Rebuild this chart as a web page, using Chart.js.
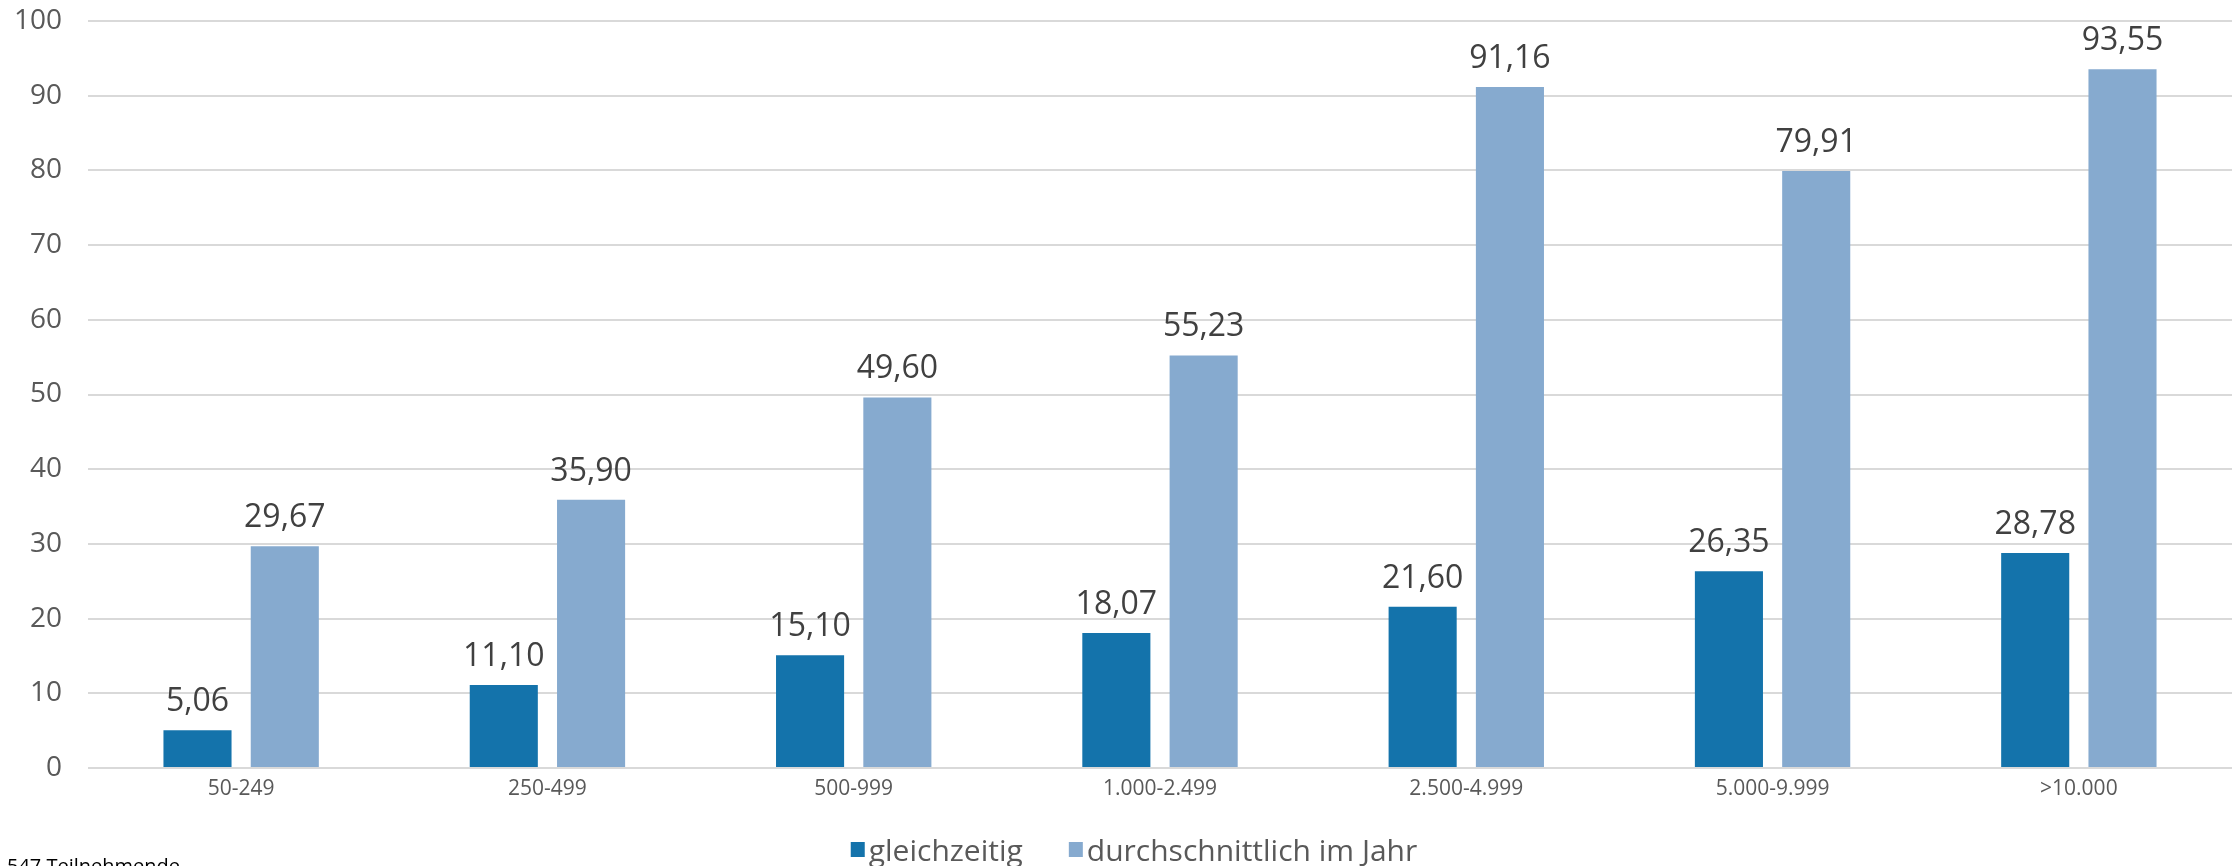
<html>
<head>
	<title>Teilnehmende</title>
	<meta charset="utf-8">
	<script src="https://cdn.jsdelivr.net/npm/chart.js"></script>
	<style>
		html, body {
			margin: 0;
			padding: 0;
			background: #ffffff;
		}
		#wrap {
			width: 2239px;
			height: 866px;
		}
	</style>
</head>
<body>
	<div id="wrap">
		<canvas id="myChart" width="2239" height="866"></canvas>
	</div>

	<script type="text/javascript">
		// Größenklassen und Werte
		let categories = ["50-249", "250-499", "500-999", "1.000-2.499", "2.500-4.999", "5.000-9.999", ">10.000"];
		let gleichzeitig = [5.06, 11.10, 15.10, 18.07, 21.60, 26.35, 28.78];
		let durchschnitt = [29.67, 35.90, 49.60, 55.23, 91.16, 79.91, 93.55];
		let seriesNames = ["gleichzeitig", "durchschnittlich im Jahr"];
		let seriesColors = ["#1473ab", "#86aacf"];
		let yTicks = [0, 10, 20, 30, 40, 50, 60, 70, 80, 90, 100];
		let footnote = "547 Teilnehmende";

		const FONT = "'Open Sans', sans-serif";

		// Zahlen über den Balken (deutsches Komma)
		const valueLabels = {
			id: 'valueLabels',
			afterDatasetsDraw(chart) {
				const ctx = chart.ctx;
				ctx.save();
				ctx.font = "32px " + FONT;
				ctx.fillStyle = "#404040";
				ctx.textAlign = "center";
				ctx.textBaseline = "alphabetic";
				chart.data.datasets.forEach(function(ds, i) {
					chart.getDatasetMeta(i).data.forEach(function(bar, j) {
						let txt = ds.data[j].toFixed(2).replace(".", ",");
						ctx.fillText(txt, bar.x, bar.y - 19);
					});
				});
				ctx.restore();
			}
		};

		// Legende unten, eng gesetzt wie im Excel-Diagramm
		const bottomLegend = {
			id: 'bottomLegend',
			afterDraw(chart) {
				const ctx = chart.ctx;
				const box = 14, gap = 4, itemGap = 46;
				ctx.save();
				ctx.font = "30px " + FONT;
				ctx.textBaseline = "alphabetic";
				ctx.textAlign = "left";
				let widths = chart.data.datasets.map(function(ds) {
					return box + gap + ctx.measureText(ds.label).width;
				});
				let total = widths.reduce(function(a, b) { return a + b; }, 0) + itemGap * (widths.length - 1);
				let x = 1134 - total / 2;
				chart.data.datasets.forEach(function(ds, i) {
					ctx.fillStyle = ds.backgroundColor;
					ctx.fillRect(x, 842, box, 15);
					ctx.fillStyle = "#595959";
					ctx.fillText(ds.label, x + box + gap, 861);
					x += widths[i] + itemGap;
				});
				ctx.restore();
			}
		};

		// Fußnote unten links
		const footNote = {
			id: 'footNote',
			afterDraw(chart) {
				const ctx = chart.ctx;
				ctx.save();
				ctx.font = "20px " + FONT;
				ctx.fillStyle = "#000000";
				ctx.textAlign = "left";
				ctx.textBaseline = "top";
				ctx.fillText(footnote, 7, 857);
				ctx.restore();
			}
		};

		var ctx = document.getElementById('myChart').getContext('2d');
		var myChart = new Chart(ctx, {
			type: 'bar',
			data: {
				labels: categories,
				datasets: [
					{
						label: seriesNames[0],
						data: gleichzeitig,
						backgroundColor: seriesColors[0]
					},
					{
						label: seriesNames[1],
						data: durchschnitt,
						backgroundColor: seriesColors[1]
					}
				]
			},
			options: {
				responsive: false,
				animation: false,
				devicePixelRatio: 1,
				categoryPercentage: 0.57,
				barPercentage: 0.78,
				layout: {
					padding: { top: 21, right: 7, left: 0, bottom: 0 }
				},
				scales: {
					x: {
						grid: { display: false, drawTicks: false },
						border: { display: false },
						ticks: {
							color: "#595959",
							font: { family: FONT, size: 21 },
							padding: 8
						},
						afterFit: function(s) { s.height = 98; }
					},
					y: {
						min: 0,
						max: 100,
						afterBuildTicks: function(s) {
							s.ticks = yTicks.map(function(v) { return { value: v }; });
						},
						grid: { color: "#d9d9d9", lineWidth: 2, drawTicks: false },
						border: { display: false },
						ticks: {
							color: "#595959",
							font: { family: FONT, size: 28 },
							padding: 26
						},
						// tick padding würde sonst oben zusätzlich Platz reservieren
						afterFit: function(s) {
							s.width = 88;
							s.paddingTop = 0;
							s.paddingBottom = 0;
						}
					}
				},
				plugins: {
					legend: { display: false },
					tooltip: { enabled: false }
				}
			},
			plugins: [valueLabels, bottomLegend, footNote]
		});
	</script>
</body>
</html>
